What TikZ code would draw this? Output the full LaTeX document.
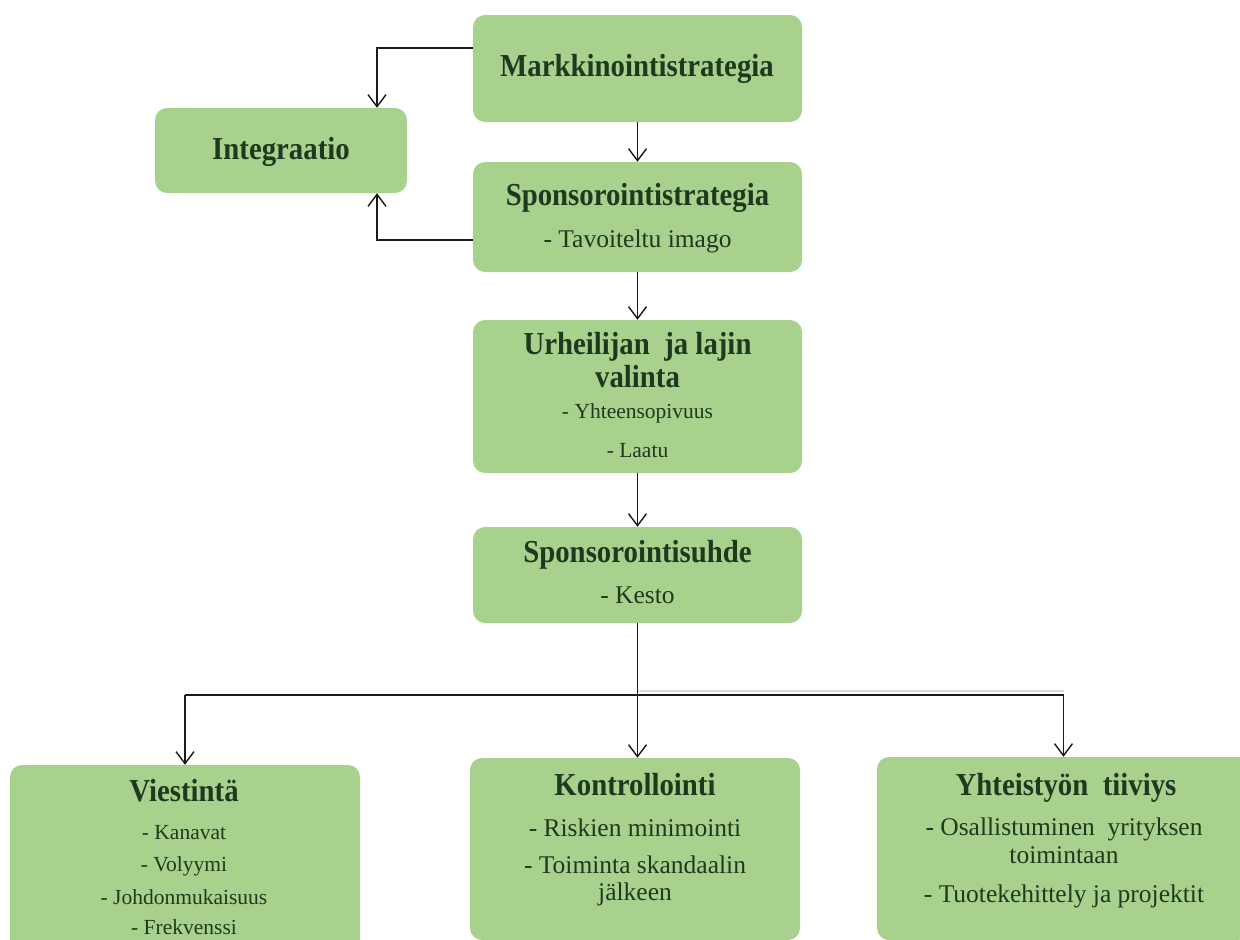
\documentclass[tikz,border=0pt]{standalone}
\usepackage{fontspec}
\setmainfont{Liberation Serif}
\newfontfamily\titlefont{Liberation Serif}[FakeStretch=0.9]
\usetikzlibrary{arrows.meta}
\definecolor{boxgreen}{HTML}{A9D18E}
\definecolor{txtgreen}{HTML}{1E3A1E}
\definecolor{lineblack}{HTML}{1A1A1A}
\begin{document}
\begin{tikzpicture}[x=1pt,y=-1pt,
  box/.style={fill=boxgreen, rounded corners=12pt, inner sep=0pt},
  ln/.style={anchor=base, text=txtgreen, inner sep=0pt, font=\fontsize{25.5}{30}\selectfont},
  sm/.style={ln, font=\fontsize{21.5}{30}\selectfont},
  ttl/.style={ln, font=\fontsize{32}{36}\titlefont\bfseries},
  plain/.style={line width=1.4pt, draw=lineblack},
  conn/.style={plain, -{Straight Barb[length=12pt,width=18pt,line width=1.4pt]}}
]
\useasboundingbox (0,0) rectangle (1240,940);
\clip (0,0) rectangle (1240,940);

% boxes
\node[box, minimum width=329pt, minimum height=107pt] (mk) at (637.5,68.5) {};
\node[box, minimum width=252pt, minimum height=85pt] (int) at (281,150.5) {};
\node[box, minimum width=329pt, minimum height=110pt] (sp) at (637.5,217) {};
\node[box, minimum width=329pt, minimum height=153pt] (ur) at (637.5,396.5) {};
\node[box, minimum width=329pt, minimum height=96pt] (su) at (637.5,575) {};
\node[box, minimum width=350pt, minimum height=200pt] (vi) at (185,865) {};
\node[box, minimum width=330pt, minimum height=182pt] (ko) at (635,849) {};
\node[box, minimum width=373pt, minimum height=183pt] (ye) at (1063.5,848.5) {};

% texts
\node[ttl] (mkT) at (637,76) {Markkinointistrategia};
\node[ttl] (intT) at (281,159) {Integraatio};
\node[ttl] (spT) at (637.5,205) {Sponsorointistrategia};
\node[ln] (spA) at (637.5,247) {- Tavoiteltu imago};
\node[ttl] (urT1) at (637.5,354) {Urheilijan\ \ ja lajin};
\node[ttl] (urT2) at (637.5,387) {valinta};
\node[sm] (urA) at (637.5,418) {- Yhteensopivuus};
\node[sm] (urB) at (637.5,457) {- Laatu};
\node[ttl] (suT) at (637.5,562) {Sponsorointisuhde};
\node[ln] (suA) at (637.5,603) {- Kesto};

\node[ttl] (viT) at (184,801) {Viestintä};
\node[sm] (viA) at (184,839) {- Kanavat};
\node[sm] (viB) at (184,871) {- Volyymi};
\node[sm] (viC) at (184,904) {- Johdonmukaisuus};
\node[sm] (viD) at (184,934) {- Frekvenssi};

\node[ttl] (koT) at (635,795) {Kontrollointi};
\node[ln] (koA) at (635,836) {- Riskien minimointi};
\node[ln] (koB) at (635,873) {- Toiminta skandaalin};
\node[ln] (koC) at (635,900) {jälkeen};

\node[ttl] (yeT) at (1066,795) {Yhteistyön\ \ tiiviys};
\node[ln] (yeA) at (1064,835) {- Osallistuminen\ \ yrityksen};
\node[ln] (yeB) at (1064,863) {toimintaan};
\node[ln] (yeC) at (1064,902) {- Tuotekehittely ja projektit};

% connectors
\coordinate (hy) at (0,695);
\coordinate (hg) at (0,691);

\draw[conn] ([yshift=20.5pt]mk.west) -| ([xshift=96pt]int.north);
\draw[conn] ([yshift=-23pt]sp.west) -| ([xshift=96pt]int.south);
\draw[conn] (mk.south) -- (sp.north);
\draw[conn] (sp.south) -- (ur.north);
\draw[conn] (ur.south) -- (su.north);
\draw[draw=black!15, line width=1.5pt] (su.south |- hg) -- (ye.north |- hg);
\draw[plain] (su.south) -- (su.south |- hy);
\draw[plain] (vi.north |- hy) -- (ye.north |- hy);
\draw[conn] (vi.north |- hy) -- (vi.north);
\draw[conn] (su.south |- hy) -- (su.south |- ko.north);
\draw[conn] (ye.north |- hy) -- (ye.north);
\end{tikzpicture}
\end{document}
